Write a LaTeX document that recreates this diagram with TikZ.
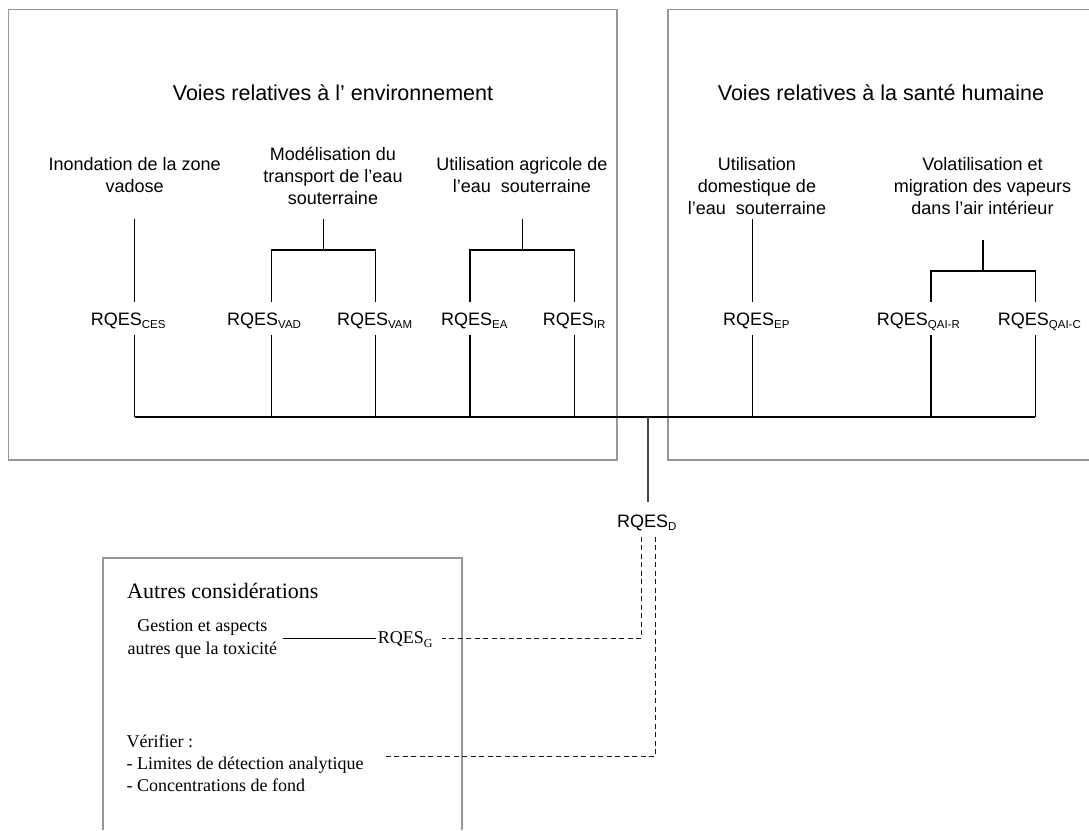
\documentclass[tikz,border=0pt]{standalone}
\usepackage{fontspec}
\setmainfont{Liberation Serif}
\newfontfamily\arialf{Liberation Sans}
\definecolor{boxgray}{RGB}{150,150,150}
\definecolor{stemgray}{RGB}{70,70,70}
\newcommand\rqs[2][11.5]{RQES\raisebox{-3.5pt}{\fontsize{#1}{#1}\selectfont #2}}
\tikzset{
  box/.style={draw=boxgray, line width=1.6pt},
  conn/.style={draw=black, line width=1.2pt},
  dconn/.style={draw=black!90, line width=1.5pt, dash pattern=on 5pt off 3.5pt},
  sanslbl/.style={font=\arialf\fontsize{18}{22}\selectfont, align=center, inner sep=0pt, anchor=base},
  rqlbl/.style={font=\arialf\fontsize{18}{22}\selectfont, inner sep=0pt, anchor=base west},
  titlelbl/.style={font=\arialf\fontsize{21.5}{26}\selectfont, inner sep=0pt, anchor=base},
  seriflbl/.style={font=\fontsize{18}{22}\selectfont, inner sep=0pt, align=left, anchor=base west},
}
\begin{document}
\begin{tikzpicture}[x=1pt,y=-1pt]
\useasboundingbox (0,0) rectangle (1089,830);
% boxes
\draw[box] (8.5,9.3) rectangle (616.7,460);
\draw[box] (1089,9.3) -- (668,9.3) -- (668,460) -- (1089,460);
\draw[box] (103,830) -- (103,558) -- (461.7,558) -- (461.7,830);
% titles
\node[titlelbl] (t1) at (333,100) {Voies relatives à l’ environnement};
\node[titlelbl] (t2) at (881,100) {Voies relatives à la santé humaine};
% pathway labels (base anchor = last line)
\node[sanslbl] (p1) at (134.7,192.5) {Inondation de la zone\\vadose};
\node[sanslbl] (p2) at (333,204.5) {Modélisation du\\transport de l’eau\\souterraine};
\node[sanslbl] (p3) at (522,192.5) {Utilisation agricole de\\l’eau\ \ souterraine};
\node[sanslbl] (p4) at (757,214.5) {Utilisation\\domestique de\\l’eau\ \ souterraine};
\node[sanslbl] (p5) at (982.5,214.5) {Volatilisation et\\migration des vapeurs\\dans l’air intérieur};
% RQES labels
\node[rqlbl] (ces) at (90.7,325) {\rqs{CES}};
\node[rqlbl] (vad) at (227,325) {\rqs{VAD}};
\node[rqlbl] (vam) at (336.8,325) {\rqs{VAM}};
\node[rqlbl] (ea) at (441,325) {\rqs{EA}};
\node[rqlbl] (ir) at (542.7,325) {\rqs{IR}};
\node[rqlbl] (ep) at (723,325) {\rqs{EP}};
\node[rqlbl] (qair) at (876.7,325) {\rqs{QAI-R}};
\node[rqlbl] (qaic) at (997.7,325) {\rqs{QAI-C}};
\node[rqlbl] (d) at (617,527) {\rqs{D}};
% coordinates
\coordinate (bL) at (134.7,417);
\coordinate (bR) at (1035.3,417);
\coordinate (bD) at (648,417);
\coordinate (dTop) at (648,502);
% connectors: ces
\draw[conn] (134.7,219) -- (134.7,301.7);
\draw[conn] (134.7,335) -- (bL);
% modelisation
\draw[conn] (323.4,219) -- (323.4,250);
\draw[conn] (271.3,301.7) -- (271.3,250) -- (375.8,250) -- (375.8,301.7);
\draw[conn] (271.3,335) -- (271.3,417);
\draw[conn] (375.8,335) -- (375.8,417);
% agricole
\draw[conn] (522.4,219) -- (522.4,250);
\draw[conn] (470,301.7) -- (470,250) -- (574.8,250) -- (574.8,301.7);
\draw[conn] (470,335) -- (470,417);
\draw[conn] (574.8,335) -- (574.8,417);
% domestique
\draw[conn] (752.7,219) -- (752.7,301.7);
\draw[conn] (752.7,335) -- (752.7,417);
% volatilisation
\draw[conn] (983,240) -- (983,271);
\draw[conn] (931,301.7) -- (931,271) -- (1035.3,271) -- (1035.3,301.7);
\draw[conn] (931,335) -- (931,417);
\draw[conn] (1035.3,335) -- (bR);
% bus
\draw[conn] (bL) -- (bR);
\draw[draw=stemgray, line width=1.5pt] (bD) -- (dTop);
% autres considerations
\node[seriflbl, font=\fontsize{22}{26}\selectfont] (ac) at (127,598) {Autres considérations};
\node[font=\fontsize{18}{22.6}\selectfont, align=center, inner sep=0pt, anchor=base] (gest) at (202.4,654.3) {Gestion et aspects\\autres que la toxicité};
\node[font=\fontsize{18}{22}\selectfont, inner sep=0pt, anchor=base west] (g) at (377.7,643.5) {\rqs[12]{G}};
\node[seriflbl] (verif) at (126.5,791.7) {Vérifier :\\- Limites de détection analytique\\- Concentrations de fond};
\coordinate (gL) at (282.5,638.5);
\coordinate (gR) at (376,638.5);
\draw[conn, line width=1.4pt] (gL) -- (gR);
\coordinate (d1) at (641.5,536.7);
\coordinate (d2) at (655.5,536.7);
\draw[dconn] (d1) -- (641.5,638.5) -- (441.8,638.5);
\draw[dconn] (d2) -- (655.5,756.5) -- (382.7,756.5);
\end{tikzpicture}
\end{document}
